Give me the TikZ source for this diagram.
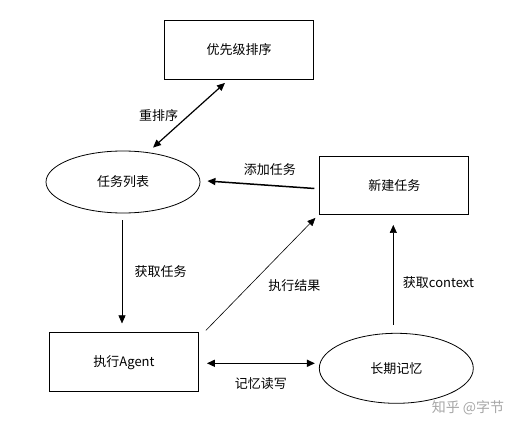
\documentclass[tikz,border=0pt]{standalone}
\usepackage{fontspec}
\setmainfont{Noto Sans CJK SC}
\usepackage{tikz}
\usetikzlibrary{positioning, arrows.meta, shapes.geometric, calc}

\begin{document}
\begin{tikzpicture}[x=1pt, y=1pt,
    font=\fontsize{13}{15}\selectfont,
    box/.style={rectangle, draw=black, thick, minimum width=149pt, minimum height=59pt},
    oval/.style={ellipse, draw=black, thick, minimum width=154pt, minimum height=62pt},
    flow/.style={-{Triangle[length=8pt, width=7pt]}, semithick},
    boldflow/.style={-{Triangle[length=8pt, width=7pt]}, line width=1.5pt}
]
\useasboundingbox (0,0) rectangle (524,-430);

% nodes
\node[box] (Prio) at (239,-50) {优先级排序};
\node[oval] (Tasks) at (123,-182) {任务列表};
\node[box, below=119pt of Tasks, xshift=1pt] (Agent) {执行Agent};
\node[oval, minimum height=70pt, right=120pt of Agent, yshift=-6pt] (Memory) {长期记忆};
\node[box, minimum height=58pt, above=118pt of Memory, xshift=-2pt] (NewTask) {新建任务};

% watermark
\node[text=black!35, font=\fontsize{14}{16}\selectfont] (Mark) at (468,-408) {知乎 @字节};

% connectors
\draw[{Triangle[length=8pt, width=7pt]}-{Triangle[length=8pt, width=7pt]}, line width=1.2pt]
    ([xshift=-14pt, yshift=-3pt]Prio.south) -- ([xshift=30pt, yshift=3pt]Tasks.north)
    node[midway, left=7pt] {重排序};
\draw[boldflow] ([xshift=-5pt, yshift=-3pt]NewTask.west) -- ([xshift=7pt, yshift=1pt]Tasks.east)
    node[midway, above=5pt, xshift=9pt] {添加任务};
\draw[flow] ([xshift=-1pt, yshift=-7pt]Tasks.south) -- ([xshift=-2pt, yshift=9pt]Agent.north)
    node[midway, right=9pt] {获取任务};
\draw[flow] ([xshift=7pt, yshift=2pt]Agent.north east) -- ([xshift=-4pt, yshift=-3pt]NewTask.south west)
    node[midway, below right=2pt and 4pt] {执行结果};
\draw[flow] ([xshift=-3pt, yshift=8pt]Memory.north) -- ([xshift=-1pt, yshift=-10pt]NewTask.south)
    node[midway, right=6pt, yshift=-8pt] {获取context};
\draw[{Triangle[length=8pt, width=7pt]}-{Triangle[length=8pt, width=7pt]}, line width=1.5pt]
    ([xshift=8pt, yshift=-1pt]Agent.east) -- ([xshift=-4pt, yshift=5pt]Memory.west)
    node[midway, below=10pt] {记忆读写};

\end{tikzpicture}
\end{document}
